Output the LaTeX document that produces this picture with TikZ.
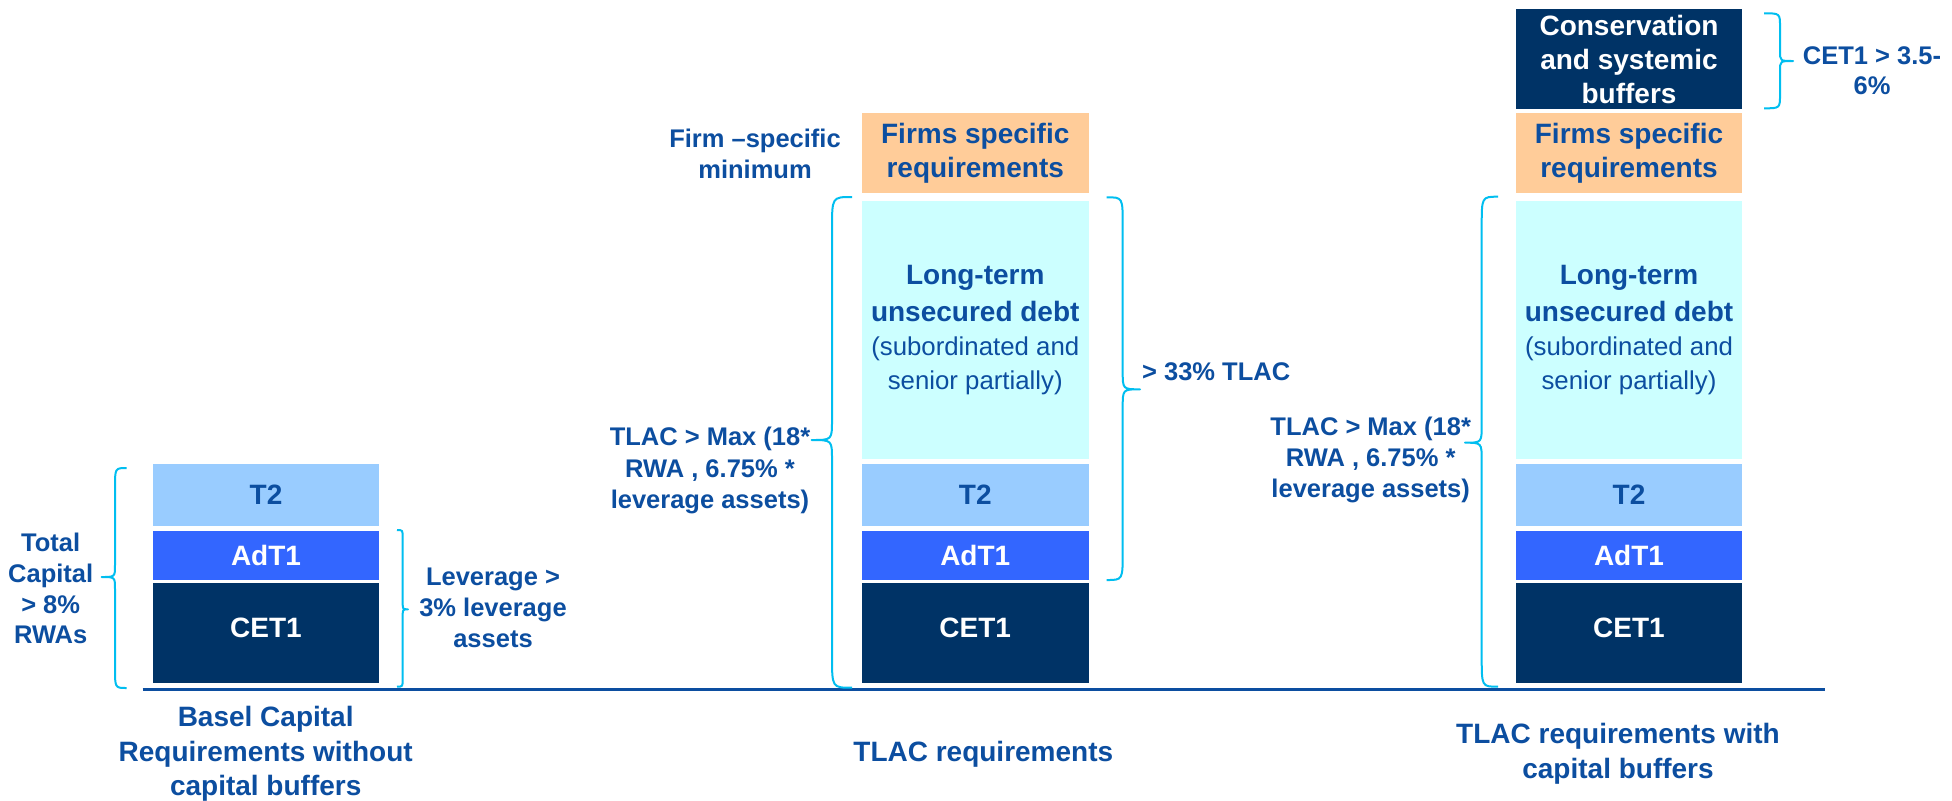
\documentclass[tikz,border=0pt]{standalone}
\usepackage{fontspec}
\setmainfont{Liberation Sans}

\definecolor{navy}{RGB}{0,51,102}
\definecolor{royal}{RGB}{51,102,255}
\definecolor{sky}{RGB}{153,204,255}
\definecolor{ice}{RGB}{204,255,255}
\definecolor{peach}{RGB}{255,204,153}
\definecolor{ink}{RGB}{12,78,160}
\definecolor{bracecol}{RGB}{0,190,240}

\tikzset{
  layer/.style={inner sep=0pt, outer sep=0pt, align=center,
    font=\bfseries\fontsize{14}{17}\selectfont},
  darklayer/.style={layer, fill=navy, text=white},
  bluelayer/.style={layer, fill=royal, text=white},
  t2layer/.style={layer, fill=sky, text=ink},
  debtlayer/.style={layer, fill=ice, text=ink},
  firmlayer/.style={layer, fill=peach, text=ink},
  sidenote/.style={inner sep=0pt, align=center, text=ink,
    font=\bfseries\fontsize{12.75}{15.5}\selectfont},
  caption/.style={inner sep=0pt, align=center, text=ink,
    font=\bfseries\fontsize{14}{17.2}\selectfont},
  bracket/.style={draw=bracecol, line width=1pt, line join=round},
  axis/.style={draw=ink, line width=1.35pt}
}

% one block of a capital stack: style, name, x1, x2, y1, y2, text
\newcommand\stackbox[7]{%
  \node[#1, minimum width={(#4-#3)*0.5pt}, minimum height={(#6-#5)*0.5pt}]
    (#2) at ({(#3+#4)/2},{(#5+#6)/2}) {#7};}

% curly bracket: end x, stem x, tip x, top y, tip y, bottom y, end curve, tip curve
\newcommand\capbrace[8]{%
  \draw[bracket] (#1,#4) .. controls (#2,#4) .. (#2,{#4+#7})
    -- (#2,{#5-#8}) .. controls (#2,#5) .. (#3,#5)
    .. controls (#2,#5) .. (#2,{#5+#8})
    -- (#2,{#6-#7}) .. controls (#2,#6) .. (#1,#6);}

\begin{document}
\begin{tikzpicture}[x={(0.5pt,0)}, y={(0,-0.5pt)}]
\fill[white] (0,0) rectangle (1952,800);
\useasboundingbox (0,0) rectangle (1952,800);

% Basel capital stack
\stackbox{t2layer}{t2A}{153}{379}{464}{525.5}{T2}
\stackbox{bluelayer}{atA}{153}{379}{531}{579.5}{AdT1}
\stackbox{darklayer, text depth=5pt}{ceA}{153}{379}{582.5}{682.5}{CET1}

% TLAC stack
\stackbox{firmlayer}{fsB}{862}{1088.5}{113.3}{192.7}{Firms specific\\requirements}
\stackbox{debtlayer}{ldB}{862}{1088.5}{201}{459}{Long-term\\[1.9pt]unsecured debt\\\mdseries\fontsize{12.9}{15.6}\selectfont(subordinated and\\\mdseries\fontsize{12.9}{15.6}\selectfont senior partially)}
\stackbox{t2layer}{t2B}{862}{1088.5}{464}{525.5}{T2}
\stackbox{bluelayer}{atB}{862}{1088.5}{531}{579.5}{AdT1}
\stackbox{darklayer, text depth=5pt}{ceB}{862}{1088.5}{582.5}{682.5}{CET1}

% TLAC stack with buffers
\stackbox{darklayer}{cbC}{1516}{1742}{9}{109.3}{Conservation\\and systemic\\buffers}
\stackbox{firmlayer}{fsC}{1516}{1742}{113.3}{192.7}{Firms specific\\requirements}
\stackbox{debtlayer}{ldC}{1516}{1742}{201}{459}{Long-term\\[1.9pt]unsecured debt\\\mdseries\fontsize{12.9}{15.6}\selectfont(subordinated and\\\mdseries\fontsize{12.9}{15.6}\selectfont senior partially)}
\stackbox{t2layer}{t2C}{1516}{1742}{464}{525.5}{T2}
\stackbox{bluelayer}{atC}{1516}{1742}{531}{579.5}{AdT1}
\stackbox{darklayer, text depth=5pt}{ceC}{1516}{1742}{582.5}{682.5}{CET1}

% ground line
\coordinate (axisL) at (142.7,689.3);
\coordinate (axisR) at (1825,689.3);
\draw[axis] (axisL) -- (axisR);

% brackets
\capbrace{126.7}{115}{101.7}{468}{577}{688}{20}{12}
\capbrace{397}{402.7}{408}{530}{609.3}{686.7}{8}{7}
\capbrace{852}{832}{811.7}{197}{440}{687.7}{32}{20}
\capbrace{1106.7}{1122.7}{1140}{197.3}{389.3}{580}{28}{18}
\capbrace{1498}{1481.7}{1465}{196.7}{442.7}{686.7}{30}{18}
\capbrace{1764}{1780}{1793}{13.3}{61}{108.3}{14}{10}

% bracket notes
\node[sidenote, font=\bfseries\fontsize{12.75}{15.35}\selectfont] (totcap) at (50.7,588.8) {Total\\Capital\\> 8\%\\RWAs};
\node[sidenote] (lev) at (493,608.3) {Leverage >\\3\% leverage\\assets};
\node[sidenote] (firmmin) at (755,153.7) {Firm –specific\\minimum};
\node[sidenote, font=\bfseries\fontsize{12.75}{15.75}\selectfont] (tlacA) at (710,470.9) {TLAC > Max (18*\\RWA , 6.75\% *\\leverage assets)};
\node[sidenote, anchor=base west] (tlac33) at (1141.7,380) {> 33\% TLAC};
\node[sidenote] (tlacB) at (1370.7,459.6) {TLAC > Max (18*\\RWA , 6.75\% *\\leverage assets)};
\node[sidenote, font=\bfseries\fontsize{12.75}{15}\selectfont] (cetbuf) at (1872,70.9) {CET1 > 3.5-\\6\%};

% stack captions
\node[caption] (capA) at (265.7,753.8) {Basel Capital\\Requirements without\\capital buffers};
\node[caption, anchor=base] (capB) at (983.3,761.7) {TLAC requirements};
\node[caption, font=\bfseries\fontsize{14}{17.35}\selectfont] (capC) at (1618,753.6) {TLAC requirements with\\capital buffers};
\end{tikzpicture}
\end{document}
